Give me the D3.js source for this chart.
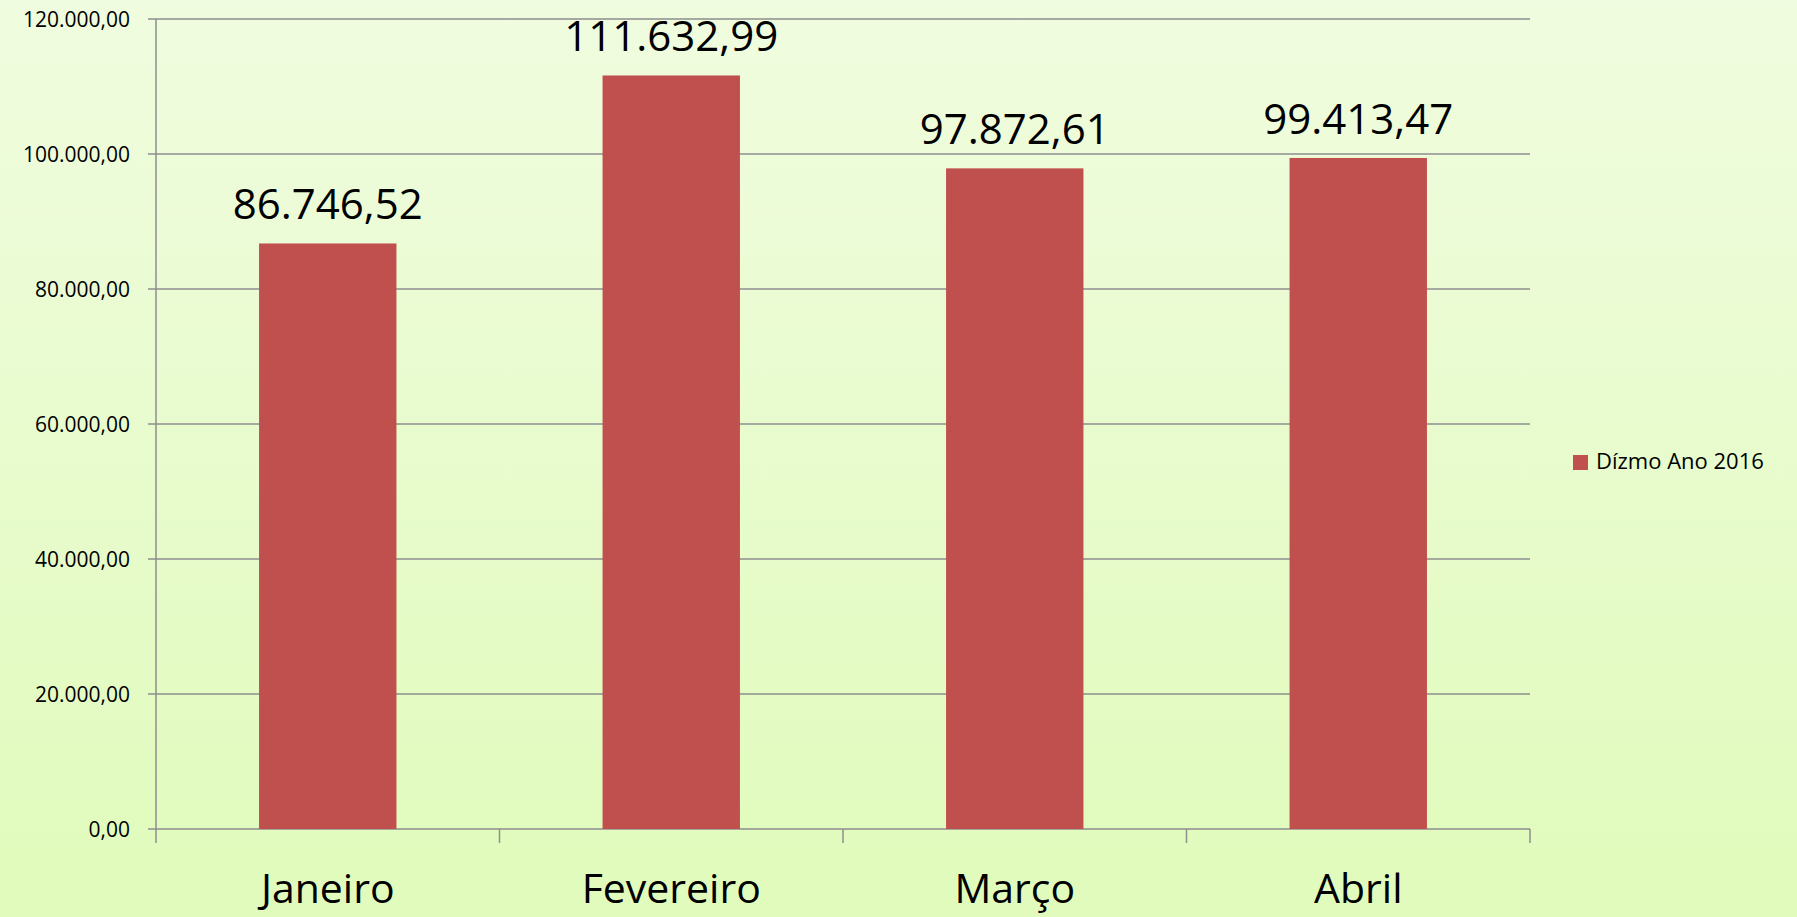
<!DOCTYPE html>
<html lang="pt">
<head>
    <meta charset="utf-8">
    <style type="text/css">
        body { margin: 0; overflow: hidden; }
        svg { display: block; font-family: "Open Sans", sans-serif; }
        .grid line { stroke: #8e8e8e; stroke-width: 1.5px; }
    </style>
</head>
<body>
<svg width="1797" height="917"></svg>

<script src="https://d3js.org/d3.v7.min.js"></script>
<script type="text/javascript">
    // dados
    var months = ["Janeiro", "Fevereiro", "Março", "Abril"];
    var values = [86746.52, 111632.99, 97872.61, 99413.47];
    var yTicks = [0, 20000, 40000, 60000, 80000, 100000, 120000];
    var seriesName = "Dízmo Ano 2016";

    var svg = d3.select("svg"),
        width = +svg.attr("width"),
        height = +svg.attr("height");

    var pt = d3.formatLocale({decimal: ",", thousands: ".", grouping: [3], currency: ["", ""]});
    var fmt = pt.format(",.2f");

    var defs = svg.append("defs");
    var grad = defs.append("linearGradient")
        .attr("id", "bg").attr("x1", 0).attr("y1", 0).attr("x2", 0).attr("y2", 1);
    grad.append("stop").attr("offset", "0%").attr("stop-color", "#f0fcdf");
    grad.append("stop").attr("offset", "100%").attr("stop-color", "#e0fbbb");

    svg.append("rect").attr("width", width).attr("height", height).attr("fill", "url(#bg)");

    // plot area (window.top is reserved, so use other names)
    var plotL = 156, plotR = 1530, plotT = 19, plotB = 829;

    var x = d3.scaleBand().domain(months).range([plotL, plotR]).padding(0);
    var y = d3.scaleLinear().domain([0, 120000]).range([plotB, plotT]);

    // gridlines
    svg.append("g").attr("class", "grid")
        .selectAll("line").data(yTicks).enter().append("line")
        .attr("x1", plotL - 8).attr("x2", plotR)
        .attr("y1", function (d) { return y(d); })
        .attr("y2", function (d) { return y(d); });

    // y axis labels
    svg.append("g").selectAll("text").data(yTicks).enter().append("text")
        .attr("x", plotL - 26)
        .attr("y", function (d) { return y(d); })
        .attr("dy", "0.36em")
        .attr("text-anchor", "end")
        .attr("font-size", 21)
        .attr("fill", "#000")
        .text(function (d) { return fmt(d); });

    // vertical axis line
    svg.append("line")
        .attr("x1", plotL).attr("x2", plotL).attr("y1", plotT).attr("y2", plotB + 14)
        .attr("stroke", "#8e8e8e").attr("stroke-width", 1.5);

    // category tick marks
    var bounds = months.map(function (m) { return x(m) + x.bandwidth(); });
    svg.append("g").selectAll("line").data(bounds).enter().append("line")
        .attr("x1", function (d) { return d; })
        .attr("x2", function (d) { return d; })
        .attr("y1", plotB).attr("y2", plotB + 14)
        .attr("stroke", "#8e8e8e").attr("stroke-width", 1.5);

    // bars
    var barW = x.bandwidth() * 0.4;
    svg.append("g").selectAll("rect").data(values).enter().append("rect")
        .attr("x", function (d, i) { return x(months[i]) + (x.bandwidth() - barW) / 2; })
        .attr("y", function (d) { return y(d); })
        .attr("width", barW)
        .attr("height", function (d) { return plotB - y(d); })
        .attr("fill", "#c0504d");

    // value labels
    svg.append("g").selectAll("text").data(values).enter().append("text")
        .attr("x", function (d, i) { return x(months[i]) + x.bandwidth() / 2; })
        .attr("y", function (d) { return y(d) - 24; })
        .attr("text-anchor", "middle")
        .attr("font-size", 42)
        .attr("fill", "#000")
        .text(function (d) { return fmt(d); });

    // category labels
    svg.append("g").selectAll("text").data(months).enter().append("text")
        .attr("x", function (d) { return x(d) + x.bandwidth() / 2; })
        .attr("y", 903)
        .attr("text-anchor", "middle")
        .attr("font-size", 41)
        .attr("fill", "#000")
        .text(function (d) { return d; });

    // legend
    var legend = svg.append("g").attr("transform", "translate(1573,455)");
    legend.append("rect").attr("width", 15).attr("height", 15).attr("fill", "#c0504d");
    legend.append("text").attr("x", 23).attr("y", 14)
        .attr("font-size", 22).attr("fill", "#000")
        .text(seriesName);
</script>
</body>
</html>
